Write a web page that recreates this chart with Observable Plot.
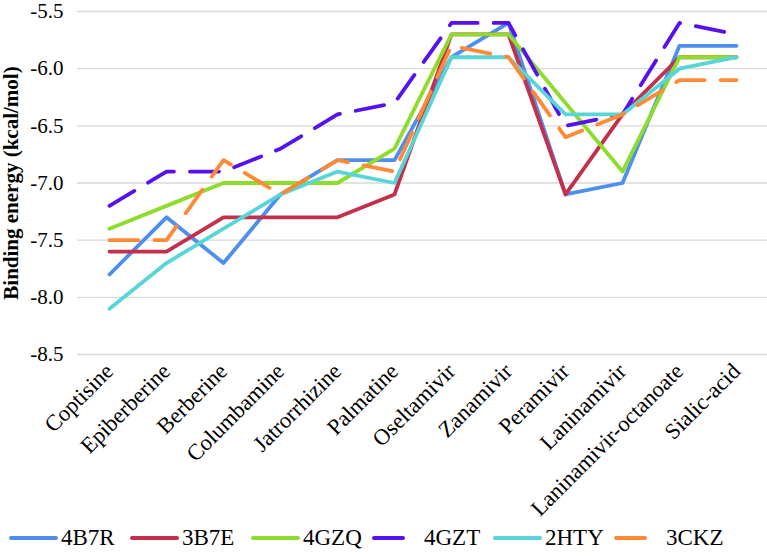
<!DOCTYPE html>
<html><head><meta charset="utf-8">
<script src="https://cdn.jsdelivr.net/npm/d3@7"></script>
<script src="https://cdn.jsdelivr.net/npm/@observablehq/plot@0.6"></script>
<style>
body{margin:0;background:#fff;font-family:"Liberation Serif","Times New Roman",serif;}
#legend{display:flex;justify-content:flex-start;align-items:center;height:37px;font-size:23px;color:#000;width:767px;box-sizing:border-box;padding-left:7px;}
.item{display:flex;align-items:center;gap:2px;width:121px;flex:none;}
</style></head><body><div id="chart"></div><div id="legend"></div>
<script>
const compounds = ["Coptisine","Epiberberine","Berberine","Columbamine","Jatrorrhizine","Palmatine","Oseltamivir","Zanamivir","Peramivir","Laninamivir","Laninamivir-octanoate","Sialic-acid"];
const s4B7R = [-7.8,-7.3,-7.7,-7.1,-6.8,-6.8,-5.9,-5.6,-7.1,-7.0,-5.8,-5.8];
const s3B7E = [-7.6,-7.6,-7.3,-7.3,-7.3,-7.1,-5.7,-5.7,-7.1,-6.4,-5.9,-5.9];
const s4GZQ = [-7.4,-7.2,-7.0,-7.0,-7.0,-6.7,-5.7,-5.7,-6.3,-6.9,-5.9,-5.9];
const s4GZT = [-7.2,-6.9,-6.9,-6.7,-6.4,-6.3,-5.6,-5.6,-6.5,-6.4,-5.6,-5.7];
const s2HTY = [-8.1,-7.7,-7.4,-7.1,-6.9,-7.0,-5.9,-5.9,-6.4,-6.4,-6.0,-5.9];
const s3CKZ = [-7.5,-7.5,-6.8,-7.1,-6.8,-6.9,-5.8,-5.9,-6.6,-6.4,-6.1,-6.1];
const seriesNames = ["4B7R","3B7E","4GZQ","4GZT","2HTY","3CKZ"];
const seriesValues = [s4B7R,s3B7E,s4GZQ,s4GZT,s2HTY,s3CKZ];
const seriesColors = ["#4d8fec","#c3304c","#8edc2c","#5512ee","#58d5d6","#ff8a35"];
const seriesDashed = [false,false,false,true,false,true];
const yTicks = [-8.5,-8.0,-7.5,-7.0,-6.5,-6.0,-5.5];
const yTitle = "Binding energy (kcal/mol)";
const DASH = "29,16";
const FONT = '"Liberation Serif","Times New Roman",serif';

const rows = seriesNames.flatMap((name, k) => compounds.map((c, i) => ({compound: c, value: seriesValues[k][i], series: name})));

const marks = [
  Plot.gridY(yTicks, {stroke: "#d9d9d9", strokeOpacity: 1, strokeWidth: 1.3}),
  Plot.axisY(yTicks, {tickSize: 0, tickPadding: 14, tickFormat: d => d.toFixed(1), fontSize: 21, label: null}),
  Plot.axisX({tickSize: 0, tickRotate: -45, tickPadding: 13, fontSize: 22.5, label: null}),
  ...seriesNames.map((name, k) => Plot.line(rows.filter(r => r.series === name), {
    x: "compound", y: "value", stroke: seriesColors[k], strokeWidth: 3.8,
    strokeDasharray: seriesDashed[k] ? DASH : null,
    strokeLinecap: "round", strokeLinejoin: "round"
  })),
  Plot.text([yTitle], {frameAnchor: "left", rotate: -90, dx: -66, fontWeight: "bold", fontSize: 21, textAnchor: "middle"})
];

const chart = Plot.plot({
  width: 767, height: 519,
  marginLeft: 77, marginRight: 0, marginTop: 11, marginBottom: 165,
  x: {type: "point", domain: compounds, padding: 0.5},
  y: {domain: [-8.5, -5.5]},
  style: {fontFamily: FONT, color: "#000", background: "#fff", overflow: "visible"},
  marks
});
document.getElementById("chart").appendChild(chart);

const legend = document.getElementById("legend");
seriesNames.forEach((name, k) => {
  const item = document.createElement("div");
  item.className = "item";
  const ns = "http://www.w3.org/2000/svg";
  const svg = document.createElementNS(ns, "svg");
  svg.setAttribute("width", 52); svg.setAttribute("height", 10);
  const line = document.createElementNS(ns, "line");
  line.setAttribute("x1", 4); line.setAttribute("x2", 49);
  line.setAttribute("y1", 5); line.setAttribute("y2", 5);
  line.setAttribute("stroke", seriesColors[k]);
  line.setAttribute("stroke-width", 4);
  line.setAttribute("stroke-linecap", "round");
  if (seriesDashed[k]) line.setAttribute("stroke-dasharray", "29,16");
  svg.appendChild(line);
  const label = document.createElement("span");
  label.textContent = name;
  item.appendChild(svg); item.appendChild(label);
  legend.appendChild(item);
});
</script></body></html>
